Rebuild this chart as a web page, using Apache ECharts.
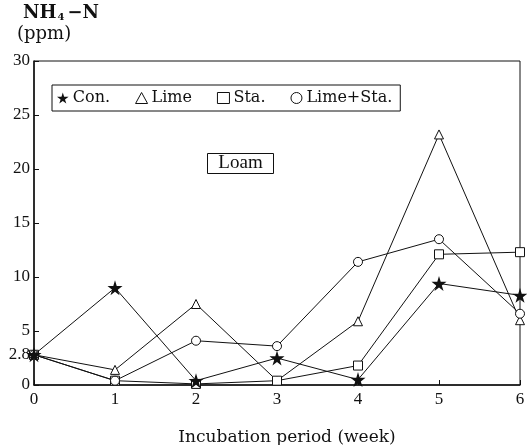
<!DOCTYPE html>
<html>
<head>
<meta charset="utf-8">
<script src="https://cdn.jsdelivr.net/npm/echarts@6/dist/echarts.min.js"></script>
<style>html,body{margin:0;padding:0;background:#fff;}#c{width:527px;height:445px;}</style>
</head>
<body>
<div id="c"></div>
<script>
const weeks = [0, 1, 2, 3, 4, 5, 6];
const seriesNames = ['Con.', 'Lime', 'Sta.', 'Lime+Sta.'];
const con = [2.8, 9.0, 0.4, 2.5, 0.5, 9.4, 8.3];
const lime = [2.8, 1.4, 7.5, 0.4, 5.9, 23.2, 6.0];
const sta = [2.8, 0.4, 0.1, 0.4, 1.8, 12.1, 12.3];
const limeSta = [2.8, 0.4, 4.1, 3.6, 11.4, 13.5, 6.6];
const yLabelValues = [0, 2.8, 5, 10, 15, 20, 25, 30];
const yTickValues = [0, 5, 10, 15, 20, 25, 30];
const xTitle = 'Incubation period (week)';
const panelLabel = 'Loam';

const FONT = '"Liberation Serif", "DejaVu Serif", serif';
const WFONT = '"DejaVu Serif", "Liberation Serif", serif';
const STAR = 'path://M50,0 L61,35 L98,35 L68,57 L79,91 L50,70 L21,91 L32,57 L2,35 L39,35 Z';
const symbols = [STAR, 'triangle', 'rect', 'circle'];
const sizes = [15, 9, 9, 9];
const values = [con, lime, sta, limeSta];

const chart = echarts.init(document.getElementById('c'), null, {renderer: 'canvas'});
chart.setOption({
  animation: false,
  backgroundColor: '#fff',
  grid: {left: 34, right: 7, top: 61, bottom: 60, show: true, borderColor: '#111', borderWidth: 1,
         containLabel: false, outerBoundsMode: 'none'},
  legend: {
    left: 52, top: 85,
    orient: 'horizontal',
    borderColor: '#111', borderWidth: 1,
    padding: [5, 8, 5, 5],
    itemWidth: 12, itemHeight: 11, itemGap: 25,
    textStyle: {fontFamily: WFONT, fontSize: 16, color: '#111', padding: [0, 0, 0, -1]},
    data: seriesNames.map((n, i) => ({
      name: n,
      icon: symbols[i],
      itemStyle: i === 0 ? {color: '#111', borderWidth: 0} : {color: '#fff', borderColor: '#111', borderWidth: 1}
    }))
  },
  xAxis: {
    type: 'value', min: 0, max: 6, interval: 1,
    name: xTitle, nameLocation: 'middle', nameGap: 44,
    nameTextStyle: {fontFamily: WFONT, fontSize: 17, color: '#111', padding: [0, 0, 0, 20]},
    axisLine: {lineStyle: {color: '#111', width: 1.5}},
    axisTick: {inside: true, length: 5, lineStyle: {color: '#111'}},
    axisLabel: {fontFamily: FONT, fontSize: 17, color: '#111', margin: 6},
    splitLine: {show: false}
  },
  yAxis: {
    type: 'value', min: 0, max: 30,
    axisLine: {show: true, lineStyle: {color: '#111', width: 1.5}},
    axisTick: {show: true, inside: true, length: 5, customValues: yTickValues, lineStyle: {color: '#111'}},
    axisLabel: {fontFamily: FONT, fontSize: 17, color: '#111', margin: 4, customValues: yLabelValues},
    splitLine: {show: false}
  },
  graphic: [
    {type: 'text', left: 23, top: 4, style: {
      text: '{a|NH}{s|4}{a|−N}', fill: '#111',
      rich: {a: {fontFamily: WFONT, fontSize: 18, fontWeight: 'bold', fill: '#111'},
             s: {fontFamily: WFONT, fontSize: 10, fontWeight: 'bold', fill: '#111', verticalAlign: 'bottom', padding: [8, 3, 0, 1]}}
    }},
    {type: 'text', left: 17, top: 25, style: {text: '(ppm)', font: '18px ' + WFONT, fill: '#111'}},
    {type: 'group', left: 207, top: 153, children: [
      {type: 'rect', shape: {x: 0, y: 0, width: 66, height: 20}, style: {fill: '#fff', stroke: '#111', lineWidth: 1}},
      {type: 'text', x: 33, y: 10, style: {text: panelLabel, font: '19px ' + FONT, fill: '#111', align: 'center', verticalAlign: 'middle'}}
    ]}
  ],
  series: seriesNames.map((n, i) => ({
    name: n, type: 'line',
    data: weeks.map((w, j) => [w, values[i][j]]),
    symbol: symbols[i], symbolSize: sizes[i],
    showAllSymbol: true,
    lineStyle: {color: '#111', width: 1},
    itemStyle: i === 0 ? {color: '#111', borderWidth: 0} : {color: '#fff', borderColor: '#111', borderWidth: 1},
    z: 2 + (i === 0 ? 4 : i)
  }))
});
</script>
</body>
</html>
